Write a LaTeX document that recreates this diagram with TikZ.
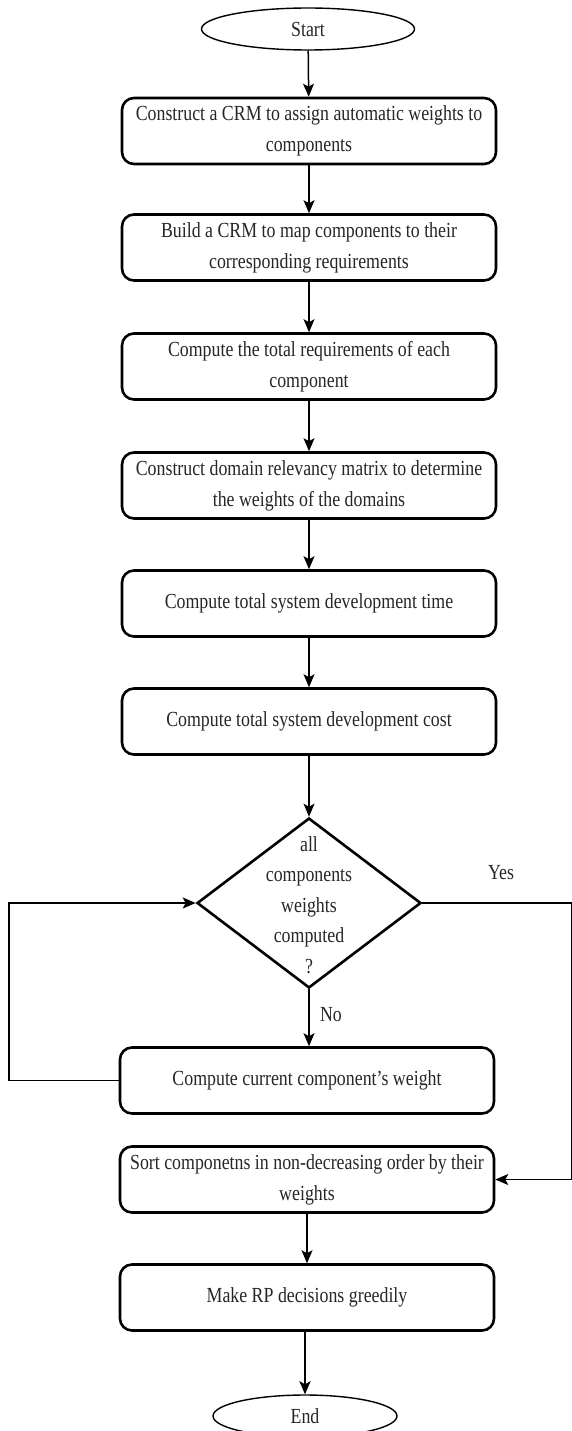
\documentclass[tikz,border=0pt]{standalone}
\usepackage{fontspec}
\setmainfont[FakeStretch=0.83]{Liberation Serif}
\usetikzlibrary{shapes.geometric,arrows.meta}
\begin{document}
\begin{tikzpicture}[x=1pt,y=-1pt,
  every node/.style={font=\fontsize{21.5}{31}\selectfont, text=black!85},
  procbox/.style={draw, line width=2.6pt, rounded corners=12pt, minimum width=374pt, minimum height=66pt, align=center, inner sep=0pt},
  term/.style={draw, ellipse, line width=1.4pt, inner sep=0pt},
  decision/.style={draw, diamond, line width=2.6pt, minimum width=224pt, minimum height=170pt, inner sep=0pt},
  arr/.style={line width=1.5pt, -{Stealth[length=13pt,width=11pt,inset=3pt]}},
  lbl/.style={inner sep=0pt}
]
\useasboundingbox (0,0) rectangle (571,1431);
\node[term, minimum width=213pt, minimum height=42pt] (start) at (308,29) {Start};
\node[procbox] (b1) at (309,131) {Construct a CRM to assign automatic weights to\\components};
\node[procbox] (b2) at (309,247.5) {Build a CRM to map components to their\\corresponding requirements};
\node[procbox] (b3) at (309,366.5) {Compute the total requirements of each\\component};
\node[procbox] (b4) at (309,485.5) {Construct domain relevancy matrix to determine\\the weights of the domains};
\node[procbox] (b5) at (309,603.5) {Compute total system development time};
\node[procbox] (b6) at (309,721.5) {Compute total system development cost};
\node[decision] (d) at (309,903) {};
\node[align=center, inner sep=0pt, font=\fontsize{21.5}{30.5}\selectfont] (dtext) at (309,905) {all\\components\\weights\\computed\\?};
\node[procbox] (b7) at (307,1080.5) {Compute current component's weight};
\node[procbox] (b8) at (307,1179.5) {Sort componetns in non-decreasing order by their\\weights};
\node[procbox] (b9) at (307,1297.5) {Make RP decisions greedily};
\node[term, minimum width=184pt, minimum height=42pt] (end) at (305,1416) {End};
\node[lbl] (yes) at (501,873) {Yes};
\node[lbl] (no) at (331,1015) {No};
\coordinate (lc) at (9,0);
\coordinate (rc) at (572,0);
\draw[arr] (start) -- (b1);
\draw[arr] (b1) -- (b2);
\draw[arr] (b2) -- (b3);
\draw[arr] (b3) -- (b4);
\draw[arr] (b4) -- (b5);
\draw[arr] (b5) -- (b6);
\draw[arr] (b6) -- (d);
\draw[arr] (d.south) -- (d.south |- b7.north);
\draw[arr] (b7.west) -- (b7.west -| lc) |- (d.west);
\draw[arr] (d.east) -- (d.east -| rc) |- (b8.east);
\draw[arr] (b8) -- (b9);
\draw[arr, line width=2.2pt] (b9.south -| end.north) -- (end.north);
\end{tikzpicture}
\end{document}
